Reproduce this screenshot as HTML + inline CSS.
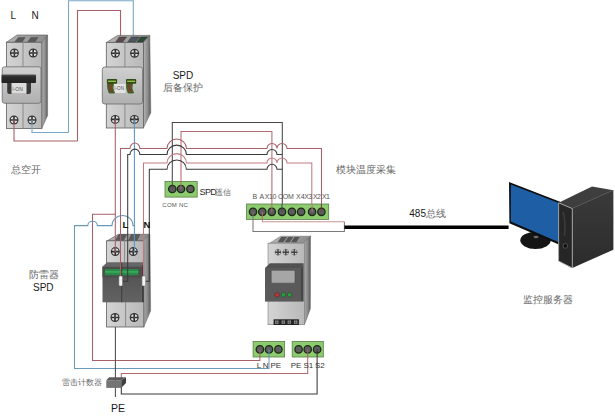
<!DOCTYPE html>
<html><head><meta charset="utf-8">
<style>
html,body{margin:0;padding:0;background:#fff;}
svg{display:block;}
.s{font-family:"Liberation Sans",sans-serif;}
.c{font-family:"Liberation Serif",serif;fill:#666;}
</style></head><body>
<svg width="615" height="416" viewBox="0 0 615 416">
<defs>
 <linearGradient id="gFront" x1="0" x2="1" y1="0" y2="0">
  <stop offset="0" stop-color="#d4d4d4"/><stop offset="1" stop-color="#b8b8b8"/>
 </linearGradient>
 <linearGradient id="gSide" x1="0" x2="1" y1="0" y2="0">
  <stop offset="0" stop-color="#b4b4b4"/><stop offset="0.6" stop-color="#8a8a8a"/><stop offset="1" stop-color="#5a5a5a"/>
 </linearGradient>
 <linearGradient id="gTop" x1="0" x2="1" y1="0" y2="0">
  <stop offset="0" stop-color="#b4b4b4"/><stop offset="1" stop-color="#8a8a8a"/>
 </linearGradient>
 <linearGradient id="gMid" x1="0" x2="0" y1="0" y2="1">
  <stop offset="0" stop-color="#d0d0d0"/><stop offset="1" stop-color="#b0b0b0"/>
 </linearGradient>
 <linearGradient id="gBar" x1="0" x2="0" y1="0" y2="1">
  <stop offset="0" stop-color="#555"/><stop offset="0.3" stop-color="#2a2a2a"/><stop offset="1" stop-color="#222"/>
 </linearGradient>
 <linearGradient id="gTowerSide" x1="0" x2="0" y1="0" y2="1">
  <stop offset="0" stop-color="#3a3a3a"/><stop offset="1" stop-color="#2c2c2c"/>
 </linearGradient>
 <linearGradient id="gDark" x1="0" x2="0" y1="0" y2="1">
  <stop offset="0" stop-color="#505050"/><stop offset="1" stop-color="#626262"/>
 </linearGradient>
 <radialGradient id="gScrew" cx="0.5" cy="0.5" r="0.5">
  <stop offset="0" stop-color="#f4f4f4"/><stop offset="0.65" stop-color="#cfcfcf"/><stop offset="1" stop-color="#3a3a3a"/>
 </radialGradient>
 <g id="screw">
  <circle r="4.5" fill="#353535"/>
  <circle r="3.3" fill="#e4e4e4"/>
  <path d="M-3.8,0H3.8M0,-3.8V3.8" stroke="#2e2e2e" stroke-width="1.6"/>
  <circle r="0.9" fill="#555"/>
 </g>
 <g id="screw2">
  <circle r="2.9" fill="#d0d0d0" stroke="#6a6a6a" stroke-width="0.6"/>
  <path d="M-3,0H3M0,-3V3" stroke="#404040" stroke-width="1.4"/>
 </g>
</defs>

<!-- ===== top L/N feed wires ===== -->
<g fill="none" stroke-width="1.1">
 <path d="M68.5,132.5V0.8H133.3V36" stroke="#78a8c8"/>
 <path d="M77.5,141V10.5H120.5V36" stroke="#a86068"/>
</g>

<text class="s" x="10.5" y="19" font-size="10" fill="#1a1a1a">L</text>
<text class="s" x="31.5" y="19" font-size="10" fill="#1a1a1a">N</text>

<!-- ===== Breaker 1 ===== -->
<g>
 <polygon points="6.5,42.3 17,35 47.6,35 41.8,42.3" fill="url(#gTop)" stroke="#555" stroke-width="0.6"/>
 <path d="M14.9,41.7 L18.4,37.4 H25.1 L22.4,41.7Z M27.8,41.7 L31,37.4 H38 L35.2,41.7Z" fill="#5a5a5a" stroke="#4a4a4a" stroke-width="0.5"/>
 <polygon points="41.8,42.3 47.6,35 47.6,115.6 41.8,128.5" fill="url(#gSide)" stroke="#666" stroke-width="0.5"/>
 <rect x="6.5" y="42.3" width="35.3" height="86.2" fill="url(#gFront)" stroke="#5e5e5e" stroke-width="0.8"/>
 <line x1="23" y1="42.3" x2="23" y2="128.5" stroke="#8a8a8a" stroke-width="1"/>
 <rect x="2.2" y="66.8" width="38.8" height="36.5" rx="2.5" fill="url(#gMid)" stroke="#6a6a6a" stroke-width="0.8"/>
 <rect x="1.5" y="74.4" width="34.5" height="8.6" rx="1" fill="url(#gBar)"/>
 <rect x="10.5" y="83" width="17" height="10" fill="#dcdcdc"/>
 <path d="M7.2,83H11.5V94H9.5Q7.2,94 7.2,91.5Z" fill="#3a3a3a"/>
 <path d="M26.5,83H31V91.5Q31,94 28.8,94H26.5Z" fill="#3a3a3a"/>
 <text class="s" x="12.3" y="91" font-size="5" fill="#555">I-ON</text>
 <use href="#screw" x="14.4" y="53"/><use href="#screw" x="33.2" y="53"/>
 <use href="#screw" x="14" y="120"/><use href="#screw" x="32" y="120"/>
</g>
<g fill="none" stroke-width="1.1">
 <path d="M32,120V132.5H68.5" stroke="#78a8c8"/>
 <path d="M14,120V141H77.5" stroke="#a86068"/>
</g>
<text class="c" x="10.5" y="173.2" font-size="10">总空开</text>

<!-- ===== Breaker 2 ===== -->
<g>
 <polygon points="106.3,42.6 117.5,35.4 149.8,35.4 143.4,42.6" fill="url(#gTop)" stroke="#555" stroke-width="0.6"/>
 <path d="M115.7,42 L119.2,37 H126.6 L122.7,42Z" fill="#5e4a4c" stroke="#3a3a3a" stroke-width="0.5"/><path d="M127.8,42 L131.3,37 H139.5 L135.2,42Z" fill="#4a5660" stroke="#3a3a3a" stroke-width="0.5"/><path d="M136.8,42 L140.7,37 H147.7 L143,42Z" fill="#2e4a36" stroke="#2a3a2a" stroke-width="0.5"/>
 <polygon points="143.4,42.6 149.8,35.2 150.8,112.7 143.4,128" fill="url(#gSide)" stroke="#666" stroke-width="0.5"/>
 <rect x="106.3" y="42.6" width="37.1" height="85.4" fill="url(#gFront)" stroke="#5e5e5e" stroke-width="0.8"/>
 <line x1="124.9" y1="42.6" x2="124.9" y2="128" stroke="#8a8a8a" stroke-width="1"/>
 <rect x="102.3" y="67" width="40.3" height="37" rx="2.5" fill="url(#gMid)" stroke="#6a6a6a" stroke-width="0.8"/>
 <rect x="113.5" y="84" width="12" height="9" fill="#e2e2e2"/>
 <path d="M107.5,83.6H113.5Q111.8,88 114.5,93H109.2Q107.2,89 107.5,83.6Z" fill="#6a4a2a" stroke="#2f6a24" stroke-width="0.9"/>
 <path d="M126.5,83.6H132.5Q130.8,88 133.5,93H128.2Q126.2,89 126.5,83.6Z" fill="#6a4a2a" stroke="#2f6a24" stroke-width="0.9"/>
 <rect x="106.9" y="79.1" width="10.2" height="4.6" rx="1" fill="#2e4a18"/>
 <rect x="108" y="80.6" width="8" height="1.4" fill="#9cbc44"/>
 <rect x="126" y="79.1" width="10.2" height="4.6" rx="1" fill="#2e4a18"/>
 <rect x="127.1" y="80.6" width="8" height="1.4" fill="#9cbc44"/>
 <text class="s" x="114.3" y="90.3" font-size="4.6" fill="#555">I-ON</text>
 <use href="#screw" x="115.4" y="53.3"/><use href="#screw" x="134.6" y="53.3"/>
 <use href="#screw" x="115.2" y="119.4"/><use href="#screw" x="134.4" y="119.4"/>
</g>
<text class="s" x="172.7" y="79" font-size="10" fill="#1a1a1a">SPD</text>
<text class="c" x="163.4" y="90.7" font-size="10">后备保护</text>

<!-- ===== SPD arrester body (under wires) ===== -->
<g>
 <polygon points="106.8,241 118.5,234.3 149.9,234.3 142.7,241" fill="url(#gTop)" stroke="#555" stroke-width="0.6"/>
 <path d="M114.9,241 L118.8,234.6 H126.7 L123.5,241Z M128.2,241 L131.3,234.6 H139.9 L136.8,241Z" fill="#5a5a5a" stroke="#4a4a4a" stroke-width="0.5"/>
 <polygon points="142.7,240.8 149.9,234.3 150.6,310.8 143.8,327" fill="url(#gSide)" stroke="#666" stroke-width="0.5"/>
 <rect x="106.6" y="240.8" width="37.2" height="86.2" fill="url(#gFront)" stroke="#5e5e5e" stroke-width="0.8"/>
 <line x1="124.6" y1="240.8" x2="124.6" y2="262.5" stroke="#8a8a8a" stroke-width="1"/>
 <line x1="125.6" y1="302" x2="125.6" y2="327" stroke="#8a8a8a" stroke-width="1"/>
 <use href="#screw" x="115.3" y="251.6"/><use href="#screw" x="133.3" y="251.6"/>
 <polygon points="102.5,266.5 107.3,262.3 143.8,262.3 141.6,266.5" fill="#666"/>
 <rect x="102.5" y="266.5" width="39.1" height="35.8" fill="url(#gDark)"/>
 <polygon points="141.6,266.5 143.8,262.3 143.8,302.3 141.6,302.3" fill="#3c3c3c"/>
 <rect x="102.5" y="266.5" width="39.1" height="11" fill="#4c4c4c"/>
 <rect x="104.9" y="269" width="33.5" height="6.3" fill="#2a8a48"/>
 <rect x="104.9" y="271" width="33.5" height="1.8" fill="#38a85a"/>
 <line x1="121.7" y1="262.5" x2="121.7" y2="302.3" stroke="#3a3a3a" stroke-width="0.9"/>
 <use href="#screw" x="115" y="317.5"/><use href="#screw" x="134.2" y="317.5"/>
</g>

<!-- ===== wires ===== -->
<g fill="none" stroke-width="1.05">
 <path d="M172.3,189V122.5H282.3V212" stroke="#474747"/>
 <path d="M181,189V131.5H271.9V212" stroke="#b46a70"/>
 <path d="M115.3,119.4V252" stroke="#a86068"/>
 <path d="M134.4,119.4V252" stroke="#5a94c4"/>
 <path d="M116,214.3H92.5V360.5H259.9V349" stroke="#a86068"/>
 <path d="M269,349V368.5H74.5V225.6H87.8A4.75,4.4 0 0 1 97.3,225.6H112A10.5,10.2 0 0 1 133,225.6H134.5" stroke="#6a9ab8"/>
 <path d="M120.5,277V148.4H130A4.9,5.4 0 0 1 139.8,148.4H167A9.7,9.4 0 0 1 186.4,148.4H267A5,5 0 0 1 277,148.4A5,5 0 0 1 287,148.4H321.5V212" stroke="#a86068"/>
 <path d="M122.5,281.2H127.7V154.5H130A4.9,5.4 0 0 1 139.8,154.5H167A9.7,9.4 0 0 1 186.4,154.5H267A5,5 0 0 1 277,154.5H282.3" stroke="#3a3a3a"/>
 <path d="M143.5,277V163H167A9.7,9.4 0 0 1 186.4,163H267A5,5 0 0 1 277,163A5,5 0 0 1 287,163H311.8V212" stroke="#c07a80"/>
 <path d="M145.6,281.2H149.3V169.3H167A9.7,9.4 0 0 1 186.4,169.3H267A5,5 0 0 1 277,169.3H282.3" stroke="#3a3a3a"/>
 <path d="M253,212V231.5H344.4V221.7" stroke="#7a7a7a"/>
 <path d="M262.4,212V221.7H344.4" stroke="#c89494"/>
 <path d="M115.4,327V397" stroke="#4a4a4a"/>
 <path d="M121.3,380V373.5H307.7V349" stroke="#b46a70"/>
 <path d="M121.3,387V394H317.1V349" stroke="#383838"/>
</g>
<line x1="344.4" y1="227.3" x2="508.6" y2="227.3" stroke="#000" stroke-width="3.4"/>
<rect x="118.9" y="276" width="3.6" height="10" rx="1" fill="#f4f4f4" stroke="#666" stroke-width="0.5"/>
<rect x="142" y="276" width="3.6" height="10" rx="1" fill="#f4f4f4" stroke="#666" stroke-width="0.5"/>
<text class="s" x="122.5" y="228" font-size="9.5" font-weight="bold" fill="#111">L</text>
<text class="s" x="143.5" y="228" font-size="9.5" font-weight="bold" fill="#111">N</text>
<text class="c" x="28.5" y="278.1" font-size="10">防雷器</text>
<text class="s" x="33" y="291.4" font-size="10" fill="#1a1a1a">SPD</text>

<!-- ===== terminal blocks ===== -->
<g stroke="#5a7e48" stroke-width="0.8" fill="#8ccb6e">
 <rect x="165" y="181.4" width="32.2" height="15.7"/>
 <rect x="246.5" y="204" width="82.2" height="15.4"/>
 <rect x="253.1" y="341.4" width="31.5" height="15.6"/>
 <rect x="292.2" y="341.4" width="31.1" height="15.6"/>
</g>
<g fill="#5c5c5c" stroke="#1c2c18" stroke-width="1.3">
 <circle cx="172.3" cy="189" r="3.7"/><circle cx="181" cy="189" r="3.7"/><circle cx="190.4" cy="189" r="3.7"/>
 <circle cx="253" cy="211.8" r="3.7"/><circle cx="262.3" cy="211.8" r="3.7"/><circle cx="271.8" cy="211.8" r="3.7"/><circle cx="282" cy="211.8" r="3.7"/>
 <circle cx="291.9" cy="211.8" r="3.7"/><circle cx="301.1" cy="211.8" r="3.7"/><circle cx="312.1" cy="211.8" r="3.7"/><circle cx="321.4" cy="211.8" r="3.7"/>
 <circle cx="259.9" cy="349.4" r="3.7"/><circle cx="269" cy="349.4" r="3.7"/><circle cx="278.4" cy="349.4" r="3.7"/>
 <circle cx="298.6" cy="349.4" r="3.7"/><circle cx="307.7" cy="349.4" r="3.7"/><circle cx="317.1" cy="349.4" r="3.7"/>
</g>
<g fill="none" stroke-width="1">
 <path d="M172.3,182V189" stroke="#474747"/><path d="M181,182V189" stroke="#b46a70"/>
 <path d="M271.8,204V211.8" stroke="#b46a70"/><path d="M282,204V211.8" stroke="#474747"/>
 <path d="M312.1,204V211.8" stroke="#c07a80"/><path d="M321.4,204V211.8" stroke="#7a3a3a"/>
 <path d="M253,211.8V220" stroke="#7a7a7a"/><path d="M262.3,211.8V220" stroke="#b86868"/>
 <path d="M259.9,349.4V357" stroke="#a86068"/><path d="M269,349.4V357" stroke="#5a94c4"/>
 <path d="M307.7,349.4V357" stroke="#a86068"/><path d="M317.1,349.4V357" stroke="#303030"/>
</g>
<text class="s" x="199.5" y="194.6" font-size="9" letter-spacing="-0.6" fill="#2a2a2a">SPD</text>
<text class="c" x="214.8" y="194.6" font-size="8">遥信</text>
<text class="s" x="162.3" y="206.8" font-size="6" letter-spacing="0.25" fill="#555">COM NC</text>
<g class="s" font-size="7" fill="#555">
 <text x="252.6" y="199">B</text><text x="259.6" y="199">A</text><text x="264.8" y="199" letter-spacing="-0.4">X10</text>
 <text x="278" y="199" letter-spacing="-0.3">COM</text><text x="296" y="199">X4</text><text x="304.3" y="199" letter-spacing="-0.5">X3</text>
 <text x="313" y="199" letter-spacing="-0.6">X2</text><text x="321.9" y="199" letter-spacing="-0.5">X1</text>
</g>
<text class="c" x="336.3" y="173.3" font-size="10">模块温度采集</text>
<text class="s" x="256.8" y="368.4" font-size="8" letter-spacing="-0.15" fill="#333">L N PE</text>
<text class="s" x="290.8" y="368.4" font-size="8" letter-spacing="-0.1" fill="#333">PE S1 S2</text>

<!-- ===== module device ===== -->
<g>
 <polygon points="269.6,243.2 280.8,236.2 310.7,236.2 303.3,243.2" fill="url(#gTop)" stroke="#6a6a6a" stroke-width="0.5"/>
 <path d="M277.7,242.3 L281.2,237 H287.1 L283.2,242.3Z M284.4,242.3 L288.3,237 H293.3 L289.8,242.3Z M291,242.3 L294.5,237 H299.6 L296.5,242.3Z" fill="#555"/>
 <polygon points="303.3,243.2 310.5,236 310.4,308.7 304.5,324.7" fill="url(#gSide)" stroke="#666" stroke-width="0.5"/>
 <rect x="268" y="243.2" width="36.5" height="81.5" fill="url(#gFront)" stroke="#7a7a7a" stroke-width="0.6"/>
 <use href="#screw2" x="278" y="252.2"/>
 <use href="#screw2" x="285.8" y="252.2"/>
 <use href="#screw2" x="294.3" y="252.2"/>
 <polygon points="265,268 270,263.2 303.6,263.2 301,268" fill="#505050"/>
 <rect x="265" y="268" width="36" height="33.6" fill="#5a5a5a"/>
 <polygon points="301,268 303.6,263.2 303.6,301.6 301,301.6" fill="#474747"/>
 <rect x="271.2" y="270.3" width="23.8" height="12.9" rx="1" fill="#a6a6a6" stroke="#4a4a4a" stroke-width="0.6"/>
 <circle cx="277.1" cy="294.8" r="2.3" fill="#c03434" stroke="#3a2a2a" stroke-width="0.5"/>
 <circle cx="283.4" cy="294.8" r="2.3" fill="#2a9a44" stroke="#2a3a2a" stroke-width="0.5"/>
 <circle cx="289.6" cy="294.8" r="2.3" fill="#2a9a44" stroke="#2a3a2a" stroke-width="0.5"/>
 <rect x="273.6" y="319.3" width="25.3" height="5.7" fill="#222"/>
 <g fill="#bbb"><rect x="275.2" y="320.6" width="3.3" height="3.1"/><rect x="281.6" y="320.6" width="3.3" height="3.1"/><rect x="287.6" y="320.6" width="3.3" height="3.1"/><rect x="294.1" y="320.6" width="3.3" height="3.1"/></g>
 <g stroke="#333" stroke-width="0.7"><path d="M275,322.15H298M276.85,320.5V323.8M283.25,320.5V323.8M289.25,320.5V323.8M295.75,320.5V323.8"/></g>
</g>

<!-- ===== counter ===== -->
<g>
 <polygon points="106.3,380.2 109.1,377.3 126,377.3 121.2,380.2" fill="#5a5a5a"/>
 <polygon points="121.2,380.2 126,377.3 126,383 121.2,387.9" fill="#404040"/>
 <rect x="106.3" y="380.2" width="14.9" height="7.7" fill="#747474"/>
</g>
<text class="c" x="61.7" y="385" font-size="8.4">雷击计数器</text>
<text class="s" x="111" y="411.5" font-size="10.5" fill="#1a1a1a">PE</text>

<!-- ===== computer ===== -->
<g>
 <ellipse cx="535.5" cy="240.3" rx="15.2" ry="8.6" fill="#151515"/>
 <ellipse cx="536" cy="237" rx="2.5" ry="1.3" fill="#6a6a6a"/>
 <polygon points="509,182 560,201.8 560,245 509.4,223.3" fill="#0e0e0e"/>
 <polygon points="510.8,184.4 560,203.6 560,242.8 510.8,221.6" fill="#1d5ea4"/>
 <polygon points="558.6,202.8 592,186.6 613.4,190.3 572.3,208.6" fill="#3e3e3e"/>
 <line x1="572.3" y1="208.6" x2="613.4" y2="190.3" stroke="#6a6a6a" stroke-width="0.8"/>
 <polygon points="572.3,208.6 613.4,190.3 613.4,249.7 572.3,268" fill="url(#gTowerSide)"/>
 <polygon points="558.6,202.8 572.3,208.6 572.3,268 558.6,261" fill="#262626" stroke="#a8a8a8" stroke-width="0.9"/>
 <path d="M563,212 Q566,222 564.5,236" stroke="#3c3c3c" stroke-width="1.5" fill="none"/>
 <circle cx="565.3" cy="245.9" r="2.3" fill="#0c0c0c" stroke="#6a6a6a" stroke-width="0.7"/>
</g>
<text class="s" x="409.3" y="216.6" font-size="10" fill="#1a1a1a">485</text>
<text class="c" x="426" y="216.6" font-size="9.5">总线</text>
<text class="c" x="523.3" y="302.9" font-size="9.8">监控服务器</text>
</svg>
</body></html>
